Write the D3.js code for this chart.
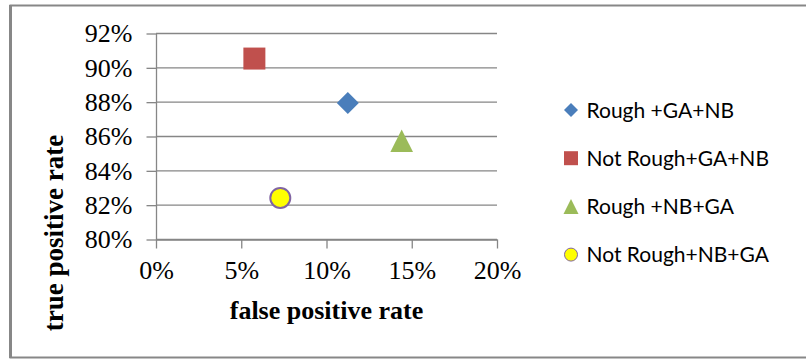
<!DOCTYPE html>
<html>
<head>
<meta charset="utf-8">
<script src="https://cdn.jsdelivr.net/npm/d3@7"></script>
<style>
  body { margin: 0; background: #fff; }
  svg { display: block; }
</style>
</head>
<body>
<div id="chart"></div>
<script>
// values
const seriesNames = ["Rough +GA+NB", "Not Rough+GA+NB", "Rough +NB+GA", "Not Rough+NB+GA"];
const fprValues = [0.1125, 0.0577, 0.1441, 0.0729];
const tprValues = [0.8795, 0.9054, 0.8575, 0.8242];
const xTicks = [0, 0.05, 0.10, 0.15, 0.20];
const yTicks = [0.80, 0.82, 0.84, 0.86, 0.88, 0.90, 0.92];

const colors = ["#4a7ebb", "#c0504d", "#9bbb59", "#ffff00"];
const strokes = ["none", "none", "none", "#8064a2"];

// marker shapes, size = half width
const diamond = { draw(ctx, h) { ctx.moveTo(0, -h); ctx.lineTo(h, 0); ctx.lineTo(0, h); ctx.lineTo(-h, 0); ctx.closePath(); } };
const square = { draw(ctx, h) { ctx.rect(-h, -h, 2 * h, 2 * h); } };
const triangle = { draw(ctx, h) { ctx.moveTo(0, -h); ctx.lineTo(h, h); ctx.lineTo(-h, h); ctx.closePath(); } };
const circle = { draw(ctx, h) { ctx.moveTo(h, 0); ctx.arc(0, 0, h, 0, 2 * Math.PI); } };
const shapes = [diamond, square, triangle, circle];
const plotSizes = [11, 11, 11.3, 10];
const legendSizes = [7, 7, 7.5, 6.5];

const width = 806, height = 360;
const grid = "#868686";

const svg = d3.select("#chart").append("svg")
    .attr("width", width)
    .attr("height", height);

// outer frame
svg.append("rect")
    .attr("x", 10.5).attr("y", 5.5)
    .attr("width", 820).attr("height", 352)
    .attr("fill", "none")
    .attr("stroke", "#878787")
    .attr("stroke-width", 2);
svg.append("line")
    .attr("x1", 10.5).attr("x2", 10.5).attr("y1", 5).attr("y2", 358)
    .attr("stroke", "#878787").attr("stroke-width", 3);

const x = d3.scaleLinear().domain([0, 0.20]).range([156, 497]);
const y = d3.scaleLinear().domain([0.80, 0.92]).range([239.5, 33.5]);

// gridlines
svg.append("g")
    .selectAll("line")
    .data(yTicks)
    .join("line")
    .attr("x1", x(0)).attr("x2", x(0.20))
    .attr("y1", d => y(d)).attr("y2", d => y(d))
    .attr("stroke", grid)
    .attr("stroke-width", 1.3);

const yAxis = svg.append("g")
    .attr("transform", `translate(${x(0)},0)`)
    .call(d3.axisLeft(y).tickValues(yTicks).tickFormat(d3.format(".0%"))
        .tickSize(9.5).tickSizeOuter(0).tickPadding(14));

const xAxis = svg.append("g")
    .attr("transform", `translate(0,${y(0.80)})`)
    .call(d3.axisBottom(x).tickValues(xTicks).tickFormat(d3.format(".0%"))
        .tickSize(9).tickSizeOuter(0).tickPadding(12));

[yAxis, xAxis].forEach(g => {
    g.selectAll("path, line").attr("stroke", grid).attr("stroke-width", 1.3);
    g.selectAll("text")
        .attr("fill", "#000")
        .style("font-family", "'Liberation Serif', 'Times New Roman', serif")
        .style("font-size", "26px");
});

// axis titles
svg.append("text")
    .attr("x", (x(0) + x(0.20)) / 2)
    .attr("y", 319)
    .attr("text-anchor", "middle")
    .style("font-family", "'Liberation Serif', 'Times New Roman', serif")
    .style("font-size", "26px")
    .style("font-weight", "bold")
    .text("false positive rate");

svg.append("text")
    .attr("transform", "translate(63,233) rotate(-90)")
    .attr("text-anchor", "middle")
    .style("font-family", "'Liberation Serif', 'Times New Roman', serif")
    .style("font-size", "27px")
    .style("font-weight", "bold")
    .text("true positive rate");

// points
svg.append("g")
    .selectAll("path")
    .data(seriesNames)
    .join("path")
    .attr("transform", (d, i) => `translate(${x(fprValues[i])},${y(tprValues[i])})`)
    .attr("d", (d, i) => d3.symbol().type(shapes[i]).size(plotSizes[i])())
    .attr("fill", (d, i) => colors[i])
    .attr("stroke", (d, i) => strokes[i])
    .attr("stroke-width", 2);

// legend
const legend = svg.append("g")
    .selectAll("g")
    .data(seriesNames)
    .join("g")
    .attr("transform", (d, i) => `translate(571,${110 + i * 48.2})`);

legend.append("path")
    .attr("d", (d, i) => d3.symbol().type(shapes[i]).size(legendSizes[i])())
    .attr("fill", (d, i) => colors[i])
    .attr("stroke", (d, i) => strokes[i])
    .attr("stroke-width", 1);

legend.append("text")
    .attr("x", 15.5)
    .attr("y", 7.5)
    .style("font-family", "Lato, 'Open Sans', sans-serif")
    .style("font-size", "21px")
    .attr("fill", "#000")
    .text(d => d);
</script>
</body>
</html>
